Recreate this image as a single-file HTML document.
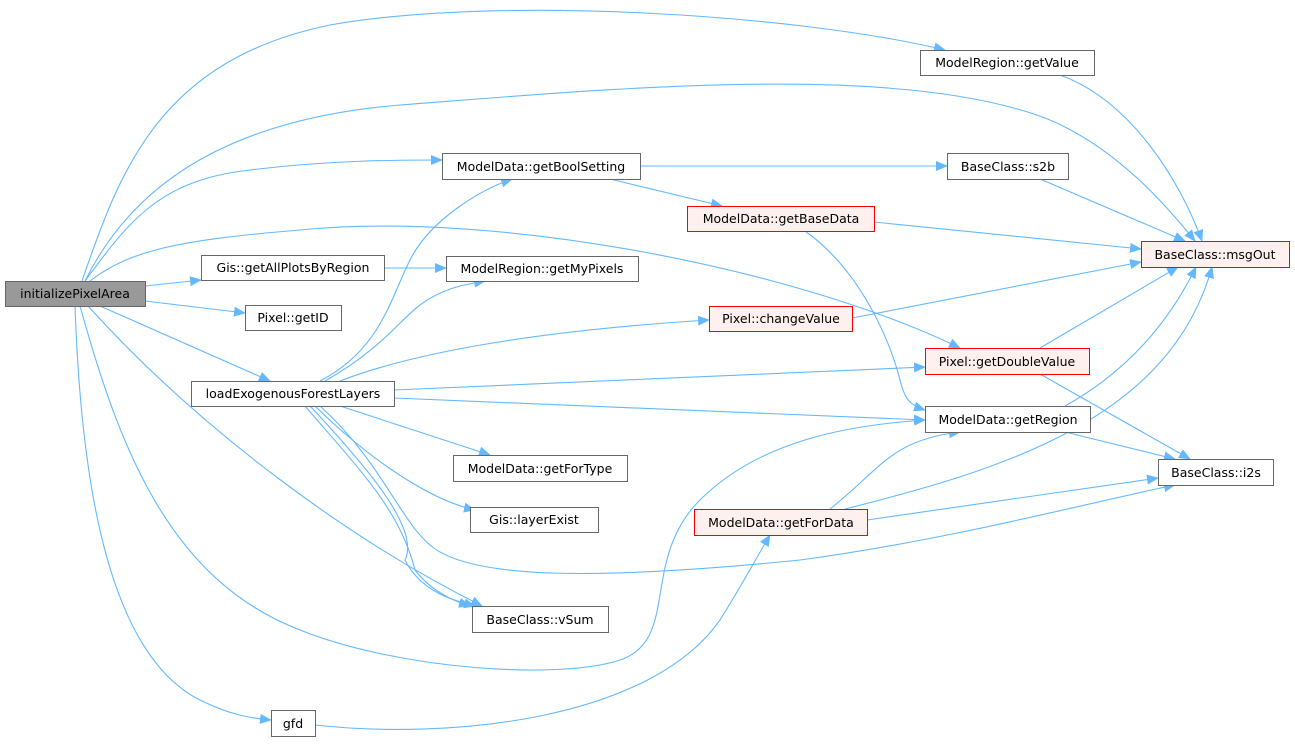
<!DOCTYPE html>
<html><head><meta charset="utf-8"><style>
body{margin:0;background:#fff;width:1295px;height:741px;overflow:hidden}
svg text{font-family:"DejaVu Sans","Liberation Sans",sans-serif;font-size:12.5px;fill:#000}
</style></head><body>
<svg width="1295" height="741" viewBox="0 0 1295 741" xmlns="http://www.w3.org/2000/svg">
<defs><marker id="a" markerWidth="12" markerHeight="10" refX="11" refY="5" orient="auto" markerUnits="userSpaceOnUse"><path d="M0,0 L12,5 L0,10 z" fill="#63b8ff"/></marker></defs>
<g fill="none" stroke="#63b8ff" stroke-width="1.1" marker-end="url(#a)">
<path d="M82,281 C120,170 160,60 330,25 C500,-5 800,15 945,50"/>
<path d="M85,281 C130,190 220,120 400,105 C600,90 900,60 1050,120 C1120,150 1170,210 1195,241"/>
<path d="M85,281 C130,220 160,180 250,170 C330,160 400,160 442,160"/>
<path d="M90,281 C130,250 180,240 300,230 C500,210 800,270 960,348"/>
<path d="M145,286 L201,280"/>
<path d="M145,301 L245,313"/>
<path d="M100,306 L270,381"/>
<path d="M88,306 C200,430 350,540 482,606"/>
<path d="M80,306 C120,450 170,580 300,630 C400,670 560,680 620,660 C680,640 640,560 700,500 C760,440 850,425 925,420"/>
<path d="M75,306 C80,450 100,650 200,700 C230,715 250,718 271,720"/>
<path d="M384,268 L446,268"/>
<path d="M320,381 C380,350 390,300 410,260 C430,220 480,190 512,179"/>
<path d="M325,381 C380,350 400,320 420,305 C440,290 460,285 485,281"/>
<path d="M340,381 C420,350 550,330 709,320"/>
<path d="M394,390 L925,367"/>
<path d="M394,398 L925,420"/>
<path d="M340,406 L490,455"/>
<path d="M315,406 C370,460 430,500 475,510"/>
<path d="M310,406 C370,470 420,530 405,560 C420,590 450,600 475,606"/>
<path d="M305,406 C360,470 400,510 415,570 C430,590 450,600 470,606"/>
<path d="M320,406 C380,460 400,520 430,545 C470,580 600,580 800,560 C950,540 1100,500 1175,485"/>
<path d="M315,725 C450,740 650,720 720,620 C745,580 755,560 770,535"/>
<path d="M640,166 L947,166"/>
<path d="M610,179 L722,206"/>
<path d="M874,222 L1141,249"/>
<path d="M805,231 C860,270 890,340 900,380 C905,400 910,405 925,410"/>
<path d="M1040,179 L1185,241"/>
<path d="M1060,75 C1130,100 1180,180 1202,241"/>
<path d="M852,318 L1141,262"/>
<path d="M1040,348 L1178,267"/>
<path d="M1040,374 L1190,459"/>
<path d="M1065,406 C1130,370 1170,320 1196,267"/>
<path d="M1065,432 L1175,459"/>
<path d="M830,509 C880,470 890,440 960,432"/>
<path d="M845,509 C1000,470 1170,420 1212,267"/>
<path d="M867,520 L1158,478"/>
</g>
<g stroke-width="1">
<rect x="5.5" y="281.5" width="140" height="25" fill="#999" stroke="#666"/>
<rect x="201.5" y="255.5" width="183" height="25" fill="#fff" stroke="#666"/>
<rect x="245.5" y="305.5" width="96" height="25" fill="#fff" stroke="#666"/>
<rect x="191.5" y="381.5" width="203" height="25" fill="#fff" stroke="#666"/>
<rect x="920.5" y="50.5" width="174" height="25" fill="#fff" stroke="#666"/>
<rect x="442.5" y="153.5" width="198" height="26" fill="#fff" stroke="#666"/>
<rect x="947.5" y="153.5" width="121" height="26" fill="#fff" stroke="#666"/>
<rect x="687.5" y="206.5" width="187" height="25" fill="#fff0f0" stroke="#f00"/>
<rect x="1141.5" y="241.5" width="148" height="26" fill="#fff0f0" stroke="#f00"/>
<rect x="446.5" y="256.5" width="192" height="25" fill="#fff" stroke="#666"/>
<rect x="709.5" y="306.5" width="143" height="25" fill="#fff0f0" stroke="#f00"/>
<rect x="925.5" y="348.5" width="164" height="26" fill="#fff0f0" stroke="#f00"/>
<rect x="925.5" y="406.5" width="165" height="26" fill="#fff" stroke="#666"/>
<rect x="453.5" y="455.5" width="174" height="26" fill="#fff" stroke="#666"/>
<rect x="1158.5" y="459.5" width="115" height="26" fill="#fff" stroke="#666"/>
<rect x="470.5" y="507.5" width="128" height="25" fill="#fff" stroke="#666"/>
<rect x="694.5" y="509.5" width="173" height="26" fill="#fff0f0" stroke="#f00"/>
<rect x="472.5" y="606.5" width="136" height="26" fill="#fff" stroke="#666"/>
<rect x="271.5" y="710.5" width="44" height="26" fill="#fff" stroke="#666"/>
</g>
<g text-anchor="middle">
<text x="75" y="298">initializePixelArea</text>
<text x="293" y="272">Gis::getAllPlotsByRegion</text>
<text x="293" y="322">Pixel::getID</text>
<text x="293" y="398">loadExogenousForestLayers</text>
<text x="1007" y="67">ModelRegion::getValue</text>
<text x="541" y="171">ModelData::getBoolSetting</text>
<text x="1008" y="171">BaseClass::s2b</text>
<text x="781" y="223">ModelData::getBaseData</text>
<text x="1215" y="259">BaseClass::msgOut</text>
<text x="542" y="273">ModelRegion::getMyPixels</text>
<text x="781" y="323">Pixel::changeValue</text>
<text x="1007" y="366">Pixel::getDoubleValue</text>
<text x="1008" y="424">ModelData::getRegion</text>
<text x="540" y="473">ModelData::getForType</text>
<text x="1216" y="477">BaseClass::i2s</text>
<text x="534" y="524">Gis::layerExist</text>
<text x="781" y="527">ModelData::getForData</text>
<text x="540" y="624">BaseClass::vSum</text>
<text x="293" y="728">gfd</text>
</g>
</svg>
</body></html>
